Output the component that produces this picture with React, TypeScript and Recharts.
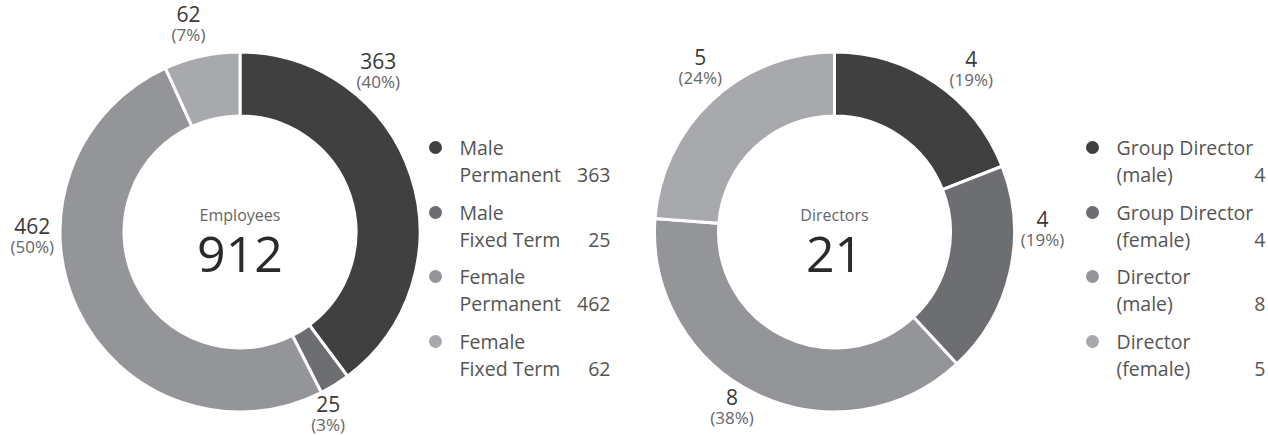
import { PieChart, Pie, Cell, Legend, Label } from "recharts";

const employeeCategories = [
  ["Male", "Permanent"],
  ["Male", "Fixed Term"],
  ["Female", "Permanent"],
  ["Female", "Fixed Term"],
];
const employeeValues = [363, 25, 462, 62];

const directorCategories = [
  ["Group Director", "(male)"],
  ["Group Director", "(female)"],
  ["Director", "(male)"],
  ["Director", "(female)"],
];
const directorValues = [4, 4, 8, 5];

const sliceColors = ["#404041", "#6d6e71", "#939598", "#a7a9ac"];

// label angle tweaks (deg) away from the slice mid-angle, to dodge the legend / each other
const employeeLabelNudge = [30, -6.7, -23, 2.1];
const directorLabelNudge = [-6.8, 11.9, -3.8, -2.7];

const FONT = "'Open Sans', 'Noto Sans', sans-serif";
const RAD = Math.PI / 180;
const CY = 232;

// largest remainder rounding so percentages add up to 100
function roundPercents(values: number[]) {
  const total = values.reduce((s, v) => s + v, 0);
  const raw = values.map((v) => (v / total) * 100);
  const out = raw.map((r) => Math.floor(r));
  let left = 100 - out.reduce((s, v) => s + v, 0);
  const order = raw
    .map((r, i) => ({ i, rem: r - Math.floor(r) }))
    .sort((a, b) => b.rem - a.rem);
  for (let k = 0; k < order.length && left > 0; k++, left--) out[order[k].i] += 1;
  return out;
}

type PanelProps = {
  title: string;
  names: string[][];
  values: number[];
  nudges: number[];
  cx: number;
  legendLeft: number;
  legendWidth: number;
};

function DonutPanel({ title, names, values, nudges, cx, legendLeft, legendWidth }: PanelProps) {
  const pct = roundPercents(values);
  const total = values.reduce((s, v) => s + v, 0);
  const data = values.map((v, i) => ({ name: names[i].join(" "), value: v }));

  const renderLabel = (props: any) => {
    const { cx: px, cy: py, midAngle, outerRadius, index, value } = props;
    const a = (midAngle + nudges[index]) * RAD;
    const r = outerRadius + 28;
    const x = px + r * Math.cos(a);
    const y = py - r * Math.sin(a);
    return (
      <text key={`lbl-${index}`} x={x} y={y} textAnchor="middle" fontFamily={FONT}>
        <tspan x={x} y={y - 8} fontSize={21} fill="#3a3a3a">
          {value}
        </tspan>
        <tspan x={x} y={y + 11} fontSize={17} fill="#666">
          ({pct[index]}%)
        </tspan>
      </text>
    );
  };

  const renderCenter = () => (
    <g fontFamily={FONT}>
      <text x={cx} y={CY - 11} textAnchor="middle" fontSize={16} fill="#666">
        {title}
      </text>
      <text x={cx} y={CY + 40} textAnchor="middle" fontSize={50} fill="#2a2a2a">
        {total}
      </text>
    </g>
  );

  const legendContent = () => (
    <div style={{ width: legendWidth, fontFamily: FONT, fontSize: 19.5, color: "#555" }}>
      {names.map((n, i) => (
        <div key={n.join("-") + i} style={{ display: "flex", height: 64.5 }}>
          <div style={{ width: 31, height: 27, display: "flex", alignItems: "center", flexShrink: 0 }}>
            <span
              style={{
                display: "inline-block",
                width: 13,
                height: 13,
                borderRadius: "50%",
                background: sliceColors[i],
              }}
            />
          </div>
          <div style={{ flex: 1, lineHeight: "27px", whiteSpace: "nowrap" }}>
            <div>{n[0]}</div>
            <div style={{ display: "flex", justifyContent: "space-between" }}>
              <span>{n[1]}</span>
              <span>{values[i]}</span>
            </div>
          </div>
        </div>
      ))}
    </div>
  );

  return (
    <PieChart width={634} height={435} margin={{ top: 0, right: 0, bottom: 0, left: 0 }}>
      <Pie
        data={data}
        dataKey="value"
        nameKey="name"
        cx={cx}
        cy={CY}
        innerRadius={116}
        outerRadius={180}
        startAngle={90}
        endAngle={-270}
        stroke="#fff"
        strokeWidth={3}
        label={renderLabel}
        labelLine={false}
        isAnimationActive={false}
      >
        {data.map((d, i) => (
          <Cell key={d.name} fill={sliceColors[i]} />
        ))}
        <Label position="center" content={renderCenter} />
      </Pie>
      <Legend
        layout="vertical"
        align="right"
        verticalAlign="top"
        content={legendContent}
        wrapperStyle={{ left: legendLeft, top: 134, width: legendWidth }}
      />
    </PieChart>
  );
}

export default function App() {
  return (
    <div
      style={{
        position: "absolute",
        left: 0,
        top: 0,
        width: 1268,
        height: 435,
        background: "#fff",
        display: "flex",
      }}
    >
      <DonutPanel
        title="Employees"
        names={employeeCategories}
        values={employeeValues}
        nudges={employeeLabelNudge}
        cx={240}
        legendLeft={428.5}
        legendWidth={182}
      />
      <DonutPanel
        title="Directors"
        names={directorCategories}
        values={directorValues}
        nudges={directorLabelNudge}
        cx={200.5}
        legendLeft={451.5}
        legendWidth={180}
      />
    </div>
  );
}
